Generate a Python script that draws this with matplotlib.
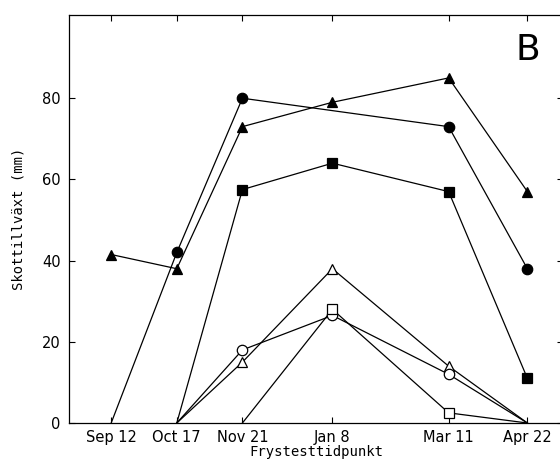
import numpy as np
import pandas as pd
import matplotlib
matplotlib.use("Agg")
import matplotlib.pyplot as plt

# --- data ---
dates = ["1985-09-12", "1985-10-17", "1985-11-21", "1986-01-08", "1986-03-11", "1986-04-22"]
date_labels = ["Sep 12", "Oct 17", "Nov 21", "Jan 8", "Mar 11", "Apr 22"]
y_ticks = [0, 20, 40, 60, 80]

tri_filled = [41.5, 38, 73, 79, 85, 57]
circ_filled = [0, 42, 80, None, 73, 38]
sq_filled = [None, 0, 57.5, 64, 57, 11]
tri_open = [None, 0, 15, 38, 14, 0]
circ_open = [None, 0, 18, 26.5, 12, 0]
sq_open = [None, None, 0, 28, 2.5, 0]

days = (pd.to_datetime(dates) - pd.to_datetime(dates[0])).days.values.astype(float)

fig = plt.figure(figsize=(5.6, 4.65), dpi=100)
ax = fig.add_axes([69 / 560, 42 / 465, (563 - 69) / 560, (423 - 15) / 465])

series = [
    (tri_filled, "^", "black"),
    (circ_filled, "o", "black"),
    (sq_filled, "s", "black"),
    (tri_open, "^", "white"),
    (circ_open, "o", "white"),
    (sq_open, "s", "white"),
]

for vals, mk, fc in series:
    xs = [d for d, v in zip(days, vals) if v is not None]
    ys = [v for v in vals if v is not None]
    ax.plot(xs, ys, color="black", lw=0.9, zorder=2)
    mx = [x for x, y in zip(xs, ys) if y > 0]
    my = [y for y in ys if y > 0]
    ms = 7.5 if mk == "o" else 7.0
    ax.plot(mx, my, linestyle="none", marker=mk, ms=ms, mfc=fc, mec="black",
            mew=0.9, zorder=3, clip_on=False)

ax.set_xlim(-22.5, 241)
ax.set_ylim(0, 100.5)
ax.set_xticks(days)
ax.set_xticklabels(date_labels, fontsize=10.5, family="DejaVu Sans")
ax.set_yticks(y_ticks)
ax.set_yticklabels([str(t) for t in y_ticks], fontsize=10.5, family="DejaVu Sans")
ax.tick_params(direction="in", length=4, width=0.8, top=True, right=True)
ax.tick_params(axis="x", pad=5)
ax.tick_params(axis="y", pad=6)
for s in ax.spines.values():
    s.set_linewidth(0.9)

ax.set_xlabel("Frystesttidpunkt", family="DejaVu Sans Mono", fontsize=10, labelpad=0)
ax.set_ylabel("Skottillväxt (mm)", family="DejaVu Sans Mono", fontsize=10, labelpad=12)

fig.text(528 / 560, 1 - 50 / 465, "B", fontsize=26, ha="center", va="center",
         family="DejaVu Sans")

fig.savefig("out.png", dpi=100)
